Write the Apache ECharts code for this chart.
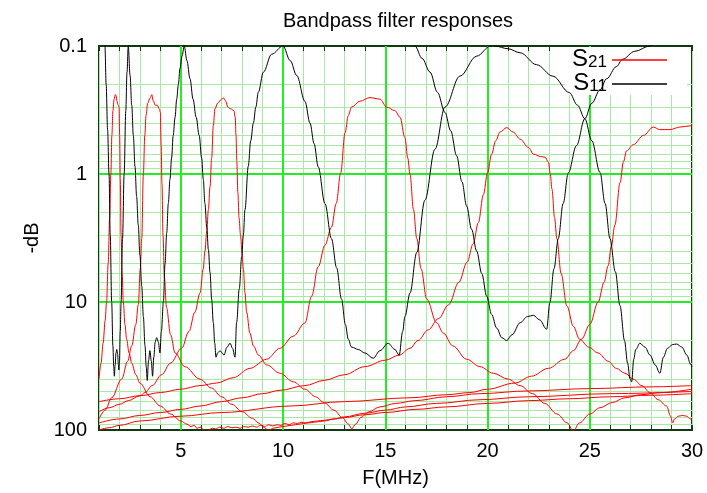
<!DOCTYPE html>
<html><head><meta charset="utf-8">
<script src="https://cdn.jsdelivr.net/npm/echarts@6/dist/echarts.min.js"></script>
<style>html,body{margin:0;padding:0;background:#fff}#c{width:707px;height:493px}</style>
</head><body><div id="c"></div>
<script>
// ---- tick labels / grid positions ----
const X_TICK_LABELS = [5, 10, 15, 20, 25, 30];
const Y_TICK_LABELS = [0.1, 1, 10, 100];
const X_MAJOR_GRID = [5, 10, 15, 20, 25];
const Y_MAJOR_GRID = [1, 10];
const Y_MINOR_GRID = [0.2,0.3,0.4,0.5,0.6,0.7,0.8,0.9,2,3,4,5,6,7,8,9,20,30,40,50,60,70,80,90];

// ---- S11 (black) : [MHz, -dB] ----
const S11_160 = [[1.0,0.05],[1.2,0.07],[1.29,0.1],[1.35,0.2],[1.42,0.45],[1.49,1.0],[1.55,3],[1.62,10],[1.68,22],[1.72,32],[1.75,38],[1.79,31],[1.83,25],[1.87,23.5],[1.91,25.5],[1.95,31],[1.97,34],[2.0,30],[2.04,17],[2.08,10],[2.15,3.2],[2.23,1.0],[2.31,0.32],[2.37,0.16],[2.43,0.1],[2.55,0.07]];
const S11_80 = [[2.3,0.07],[2.43,0.1],[2.52,0.17],[2.6,0.29],[2.68,0.5],[2.76,0.87],[2.84,1.5],[2.92,2.5],[3.0,4.3],[3.09,7.5],[3.17,13],[3.25,22],[3.31,32],[3.36,41],[3.42,29],[3.49,24],[3.56,29],[3.62,38],[3.68,27],[3.75,20.5],[3.82,19],[3.9,20.5],[3.98,25],[4.05,17],[4.15,10],[4.23,5],[4.31,2.9],[4.39,1.7],[4.47,1.1],[4.55,0.75],[4.63,0.5],[4.72,0.36],[4.8,0.26],[4.88,0.2],[4.96,0.15],[5.06,0.12],[5.17,0.1],[5.3,0.08]];
const S11_40 = [[5.0,0.08],[5.17,0.1],[5.3,0.13],[5.45,0.18],[5.6,0.26],[5.75,0.36],[5.9,0.5],[6.02,0.75],[6.1,1.1],[6.18,1.7],[6.27,2.6],[6.35,3.9],[6.43,5.9],[6.51,9.5],[6.59,14.5],[6.66,21],[6.72,27],[6.8,25],[6.92,24],[7.02,25],[7.11,26],[7.26,22.5],[7.41,21],[7.53,23],[7.65,27],[7.73,14.5],[7.86,7.9],[7.98,4.4],[8.06,3.0],[8.14,1.9],[8.3,0.87],[8.42,0.55],[8.55,0.4],[8.67,0.3],[8.79,0.23],[9.04,0.16],[9.44,0.116],[10.0,0.1],[10.2,0.08]];
const S11_20 = [[9.8,0.08],[10.0,0.1],[10.35,0.13],[10.67,0.17],[11.07,0.27],[11.32,0.4],[11.52,0.58],[11.72,0.88],[12.05,1.7],[12.37,3.2],[12.62,5.4],[12.86,9.5],[13.05,15],[13.19,19.5],[13.35,22.5],[13.68,23.5],[14.0,25],[14.41,27.5],[14.74,24],[15.14,21],[15.47,23.5],[15.68,26],[15.85,17],[15.96,13],[16.21,8.5],[16.54,4.1],[16.94,1.6],[17.43,0.64],[17.92,0.3],[18.65,0.172],[19.47,0.12],[20.15,0.1],[20.4,0.085]];
const S11_15 = [[16.2,0.08],[16.45,0.1],[16.8,0.125],[17.19,0.16],[17.55,0.23],[17.92,0.33],[18.2,0.46],[18.49,0.72],[18.75,1.15],[18.98,1.78],[19.22,2.7],[19.47,4.0],[19.72,6.0],[19.96,9],[20.2,12.5],[20.45,16],[20.7,19],[20.94,20],[21.2,18],[21.6,14.5],[21.95,13],[22.24,12.7],[22.55,13.8],[22.89,16.3],[23.05,10.1],[23.25,5.5],[23.46,3.2],[23.7,1.7],[23.95,0.98],[24.35,0.6],[24.76,0.37],[25.1,0.28],[25.5,0.22],[25.83,0.18],[26.3,0.145],[26.6,0.127],[27.2,0.11],[27.94,0.1],[28.3,0.09]];
const S11_10 = [[20.0,0.085],[20.36,0.1],[21.0,0.105],[21.6,0.113],[22.4,0.14],[23.2,0.172],[24.0,0.231],[24.4,0.29],[24.76,0.37],[25.1,0.55],[25.5,0.97],[25.75,1.7],[25.99,3.2],[26.25,5.8],[26.48,10.7],[26.7,20],[26.85,30],[26.97,40],[27.05,42],[27.15,28],[27.25,23.5],[27.45,21],[27.7,22.5],[27.95,26],[28.2,31],[28.43,36],[28.6,27],[28.8,23],[29.05,21.5],[29.25,21.3],[29.5,22.5],[29.75,26],[29.93,30.6],[30.0,32]];

// ---- S21 (red) : [MHz, -dB] ----
const S21_160 = [[1.0,40],[1.1,30],[1.2,21],[1.3,14],[1.37,10],[1.45,5],[1.52,2.2],[1.58,1.0],[1.63,0.5],[1.68,0.32],[1.74,0.26],[1.8,0.24],[1.84,0.245],[1.88,0.27],[1.94,0.29],[1.98,0.3],[2.01,0.5],[2.04,1.1],[2.08,3],[2.13,6],[2.19,10],[2.27,15],[2.35,19.5],[2.47,25],[2.6,30],[2.8,37],[3.0,43],[3.5,55],[4.0,65],[4.5,75],[5.0,85],[5.3,90],[5.5,94],[5.65,92],[5.8,97],[5.95,95],[6.1,99],[6.25,104],[6.4,99],[6.55,97],[6.7,98],[6.9,95],[7.1,97],[7.3,94],[7.5,96],[7.7,95],[7.9,97],[8.1,94],[8.3,95],[8.5,93],[8.7,95],[8.9,92],[9.1,94],[9.3,91],[9.5,93],[9.7,91],[9.9,92],[10.1,89],[10.3,91],[10.5,88],[10.7,89],[10.9,87],[11.1,88],[11.4,86],[11.7,85],[12.0,84],[12.5,82],[13.0,80],[14.0,76],[15.0,73],[16.5,69],[18.0,66],[20.0,62],[22.0,59],[24.0,57],[26.0,55],[28.0,53.5],[30.0,52]];
const S21_80 = [[1.0,82],[1.3,70],[1.62,56],[2.11,40],[2.4,29],[2.6,22],[2.8,15],[2.92,10.5],[3.02,5.5],[3.09,3.2],[3.17,1.0],[3.24,0.5],[3.3,0.35],[3.38,0.28],[3.5,0.255],[3.58,0.24],[3.66,0.27],[3.75,0.29],[3.85,0.29],[3.95,0.31],[4.0,0.33],[4.04,0.6],[4.08,1.2],[4.13,3],[4.2,6.5],[4.3,11],[4.5,18],[4.72,25],[5.2,32],[5.94,40],[6.5,47],[7.0,55],[7.5,63],[8.0,72],[8.5,81],[8.8,88],[9.1,96],[9.3,102],[9.5,97],[9.8,95],[10.2,93],[10.6,91],[11.0,89],[11.5,87],[12.0,85],[12.5,82],[13.0,79],[14.0,74],[15.0,70],[16.0,66],[17.5,62],[19.63,58],[22.0,55],[26.0,52],[30.0,50]];
const S21_40 = [[1.0,72],[1.5,67],[2.0,63],[2.43,59],[3.0,54],[3.25,51],[3.6,45],[4.06,37],[4.5,30],[5.04,23],[5.4,17],[5.69,12],[5.94,8.5],[6.1,5.5],[6.18,4.0],[6.27,2.8],[6.35,1.9],[6.43,1.25],[6.51,0.75],[6.59,0.42],[6.67,0.31],[6.8,0.28],[7.0,0.26],[7.1,0.255],[7.2,0.27],[7.3,0.3],[7.45,0.31],[7.6,0.32],[7.66,0.36],[7.7,0.5],[7.74,0.8],[7.79,1.4],[7.85,2.2],[7.92,3.0],[8.0,4.2],[8.06,5.5],[8.14,8.5],[8.22,12],[8.38,17.5],[8.55,22],[8.8,26],[9.2,31],[9.85,36],[10.5,42],[11.07,48],[11.6,55],[12.0,61],[12.5,70],[12.9,80],[13.2,90],[13.36,98],[13.55,90],[13.8,80],[14.2,72],[14.74,66],[15.5,62],[16.45,59],[18.0,55],[19.63,52],[22.0,49.5],[25.0,47.5],[28.0,46],[30.0,45]];
const S21_20 = [[1.0,60],[2.0,57],[3.0,54],[4.0,51],[5.0,48],[5.94,45],[6.75,43],[7.57,39],[8.38,33],[9.2,28],[9.85,23],[10.5,18.5],[11.07,14.6],[11.4,9],[11.72,5.3],[12.05,3.6],[12.37,2.6],[12.6,1.7],[12.82,0.98],[13.03,0.48],[13.19,0.35],[13.35,0.3],[13.76,0.27],[14.25,0.253],[14.74,0.26],[15.07,0.3],[15.47,0.32],[15.72,0.36],[15.96,0.52],[16.1,0.75],[16.21,1.0],[16.38,1.9],[16.54,3.2],[16.75,5.5],[17.03,9.5],[17.51,14.5],[17.84,17.5],[18.3,22],[18.98,28],[19.63,32],[20.28,36],[21.0,40],[21.59,45],[22.2,52],[22.8,62],[23.4,75],[23.9,88],[24.19,102],[24.5,88],[25.0,75],[25.5,67],[26.1,61],[26.72,56],[27.5,53],[28.5,51],[30.0,48]];
const S21_15 = [[1.0,88],[2.0,82],[3.0,77],[4.0,73],[5.0,69],[5.94,65],[7.0,60],[8.0,56],[9.0,52],[9.85,49],[11.07,45],[12.0,41],[13.0,37],[14.0,32],[15.0,28.5],[15.68,26],[16.21,23],[16.6,20],[17.1,16.5],[17.6,13.5],[18.1,10.5],[18.6,7],[19.0,4.9],[19.3,3.5],[19.55,2.4],[19.8,1.45],[20.0,0.98],[20.2,0.7],[20.4,0.55],[20.61,0.47],[20.94,0.434],[21.25,0.47],[21.6,0.535],[22.0,0.62],[22.25,0.7],[22.6,0.73],[22.82,0.74],[22.98,0.81],[23.07,1.0],[23.15,1.31],[23.28,2.2],[23.39,3.2],[23.6,6],[23.88,10.7],[24.2,15.5],[24.5,19.5],[24.95,22.5],[25.4,25],[25.9,29],[26.3,33],[26.72,36],[27.13,40],[27.55,45],[27.94,51],[28.35,58],[28.76,65],[28.95,78],[29.05,88],[29.15,82],[29.33,78],[29.55,77],[29.74,78],[29.93,82],[30.0,83]];
const S21_10 = [[1.0,100],[1.5,96],[2.0,92],[3.0,85],[5.0,78],[7.0,73],[10.34,65],[13.0,60],[16.21,56],[18.0,53],[19.14,51],[20.0,48],[21.34,43],[22.15,38],[22.97,33],[23.78,28],[24.2,24],[24.6,19.5],[25.0,15],[25.41,10],[25.7,7],[25.9,5.2],[26.05,3.7],[26.23,2.5],[26.48,1.17],[26.65,0.8],[26.8,0.66],[27.13,0.59],[27.62,0.5],[28.11,0.43],[28.43,0.45],[28.92,0.45],[29.41,0.43],[29.93,0.42],[30.0,0.42]];

const FONT = '"Liberation Sans", Arial, Helvetica, sans-serif';
const RED = '#ff0000', BLACK = '#000000';
const MINOR = '#a6eaa6', MAJOR = '#22ee22', FRAME = '#123a12';

function curve(data, name, color) {
  return { name, type: 'line', data, xAxisIndex: 0, yAxisIndex: 0,
    showSymbol: false, symbol: 'none', smooth: 0.35, smoothMonotone: 'x',
    clip: true, silent: true, z: 3,
    lineStyle: { color, width: 1 }, itemStyle: { color }, emphasis: { disabled: true } };
}

const gridSeries = {
  name: 'gridlines', type: 'line', data: [], silent: true, z: 1,
  markLine: {
    silent: true, z: 1, symbol: ['none', 'none'], label: { show: false }, animation: false,
    emphasis: { disabled: true },
    data: [].concat(
      Y_MINOR_GRID.map(v => ({ yAxis: v, lineStyle: { color: MINOR, width: 1, type: 'solid' } })),
      X_MAJOR_GRID.map(v => ({ xAxis: v, lineStyle: { color: MAJOR, width: 2, type: 'solid' } })),
      Y_MAJOR_GRID.map(v => ({ yAxis: v, lineStyle: { color: MAJOR, width: 2, type: 'solid' } }))
    )
  }
};

const xBase = { type: 'value', min: 1, max: 30, interval: 1 };
const yBase = { type: 'log', logBase: 10, min: 0.1, max: 100, inverse: true };

const option = {
  animation: false,
  backgroundColor: '#ffffff',
  title: { text: 'Bandpass filter responses', left: 393, top: 6, textAlign: 'center',
    textStyle: { fontFamily: FONT, fontSize: 20, fontWeight: 'normal', color: '#000' } },
  grid: { left: 99, right: 15, top: 46, bottom: 62, show: true, borderColor: FRAME, borderWidth: 2, backgroundColor: 'transparent' },
  legend: {
    data: ['S21', 'S11'], orient: 'vertical', right: 40, top: 47, padding: 0,
    align: 'right', itemWidth: 55, itemHeight: 1.5, itemGap: 0, icon: 'rect',
    selectedMode: false,
    formatter: n => n === 'S21' ? '{s|S}{b|21}' : '{s|S}{b|11}',
    textStyle: { fontFamily: FONT, color: '#000',
      rich: { s: { fontFamily: FONT, fontSize: 24, lineHeight: 22, verticalAlign: 'bottom', color: '#000' },
              b: { fontFamily: FONT, fontSize: 17, lineHeight: 10, verticalAlign: 'bottom', color: '#000' } } }
  },
  graphic: [{ type: 'rect', shape: { x: 565, y: 47, width: 122, height: 48 }, style: { fill: '#ffffff' }, z: 2, silent: true }],
  xAxis: [
    Object.assign({}, xBase, { position: 'bottom', name: 'F(MHz)', nameLocation: 'middle', nameGap: 38,
      nameTextStyle: { fontFamily: FONT, fontSize: 20, color: '#000' },
      axisLine: { show: false },
      axisTick: { show: true, inside: true, length: 5, interval: 0, lineStyle: { color: FRAME, width: 1 } },
      axisLabel: { interval: 0, margin: 11, fontFamily: FONT, fontSize: 20, color: '#000',
        formatter: v => X_TICK_LABELS.indexOf(v) >= 0 ? String(v) : '' },
      splitLine: { show: true, interval: 0, lineStyle: { color: MINOR, width: 1 } } }),
    Object.assign({}, xBase, { position: 'top',
      axisLine: { show: false },
      axisTick: { show: true, inside: true, length: 5, interval: 0, lineStyle: { color: FRAME, width: 1 } },
      axisLabel: { show: false }, splitLine: { show: false } })
  ],
  yAxis: [
    Object.assign({}, yBase, { position: 'left', name: '-dB', nameLocation: 'middle', nameGap: 55, nameRotate: 90,
      nameTextStyle: { fontFamily: FONT, fontSize: 20, color: '#000' },
      axisLine: { show: false },
      axisTick: { show: true, inside: true, length: 8, lineStyle: { color: FRAME, width: 1 } },
      axisLabel: { margin: 12, fontFamily: FONT, fontSize: 20, color: '#000',
        formatter: v => { const t = Y_TICK_LABELS.find(x => Math.abs(x - v) < 1e-9 * Math.max(1, v)); return t === undefined ? '' : String(t); } },
      splitLine: { show: false } }),
    Object.assign({}, yBase, { position: 'right',
      axisLine: { show: false },
      axisTick: { show: true, inside: true, length: 8, lineStyle: { color: FRAME, width: 1 } },
      axisLabel: { show: false }, splitLine: { show: false } })
  ],
  series: [
    gridSeries,
    curve(S21_160, 'S21', RED), curve(S21_80, 'S21', RED), curve(S21_40, 'S21', RED),
    curve(S21_20, 'S21', RED), curve(S21_15, 'S21', RED), curve(S21_10, 'S21', RED),
    curve(S11_160, 'S11', BLACK), curve(S11_80, 'S11', BLACK), curve(S11_40, 'S11', BLACK),
    curve(S11_20, 'S11', BLACK), curve(S11_15, 'S11', BLACK), curve(S11_10, 'S11', BLACK)
  ]
};

const chart = echarts.init(document.getElementById('c'), null, { renderer: 'canvas' });
chart.setOption(option);
</script>
</body></html>
